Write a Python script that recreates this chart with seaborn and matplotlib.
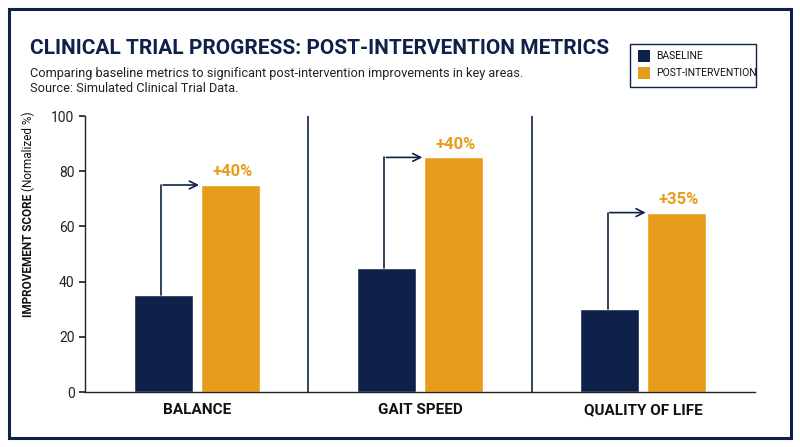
import numpy as np
import pandas as pd
import matplotlib
matplotlib.use("Agg")
from matplotlib import pyplot as plt
from matplotlib.patches import Rectangle
import seaborn as sns

categories = ["BALANCE", "GAIT SPEED", "QUALITY OF LIFE"]
baseline = [35, 45, 30]
post = [75, 85, 65]
gains = ["+40%", "+40%", "+35%"]

NAVY = "#0e2149"
ORANGE = "#e89c1c"

sns.set_theme(style="white")
plt.rcParams['font.family'] = ['Roboto', 'DejaVu Sans']

df = pd.DataFrame({"cat": categories * 2,
                   "val": baseline + post,
                   "grp": ["BASELINE"] * 3 + ["POST-INTERVENTION"] * 3})

fig = plt.figure(figsize=(8, 4.47), dpi=100)
ax = fig.add_axes([85/800, 1-392/447, 670/800, 276/447])
sns.barplot(data=df, x="cat", y="val", hue="grp", palette=[NAVY, ORANGE],
            width=0.6, gap=0.12, ax=ax, saturation=1, legend=False)

ax.set_ylim(0, 100)
ax.set_xlim(-0.5, 2.5)
ax.set_yticks(range(0, 101, 20))
ax.tick_params(axis='y', labelsize=10, colors="#222222", length=4, left=True)
ax.tick_params(axis='x', length=0, pad=8)
for lab in ax.get_xticklabels():
    lab.set_fontweight('bold'); lab.set_fontsize(11); lab.set_color("#111111")
ax.set_xlabel("")
ax.set_ylabel("")
for s in ["top", "right"]:
    ax.spines[s].set_visible(False)
for s in ["left", "bottom"]:
    ax.spines[s].set_color("#222222"); ax.spines[s].set_linewidth(1)
for xs in [0.5, 1.5]:
    ax.axvline(xs, color=NAVY, lw=1.2)

bw = 0.6 / 2
for i, (b, p, g) in enumerate(zip(baseline, post, gains)):
    bx = i - 0.15 - 0.01
    px_left = i + 0.15 - bw * 0.88 / 2 + 0.005
    ax.plot([bx, bx], [b, p], color=NAVY, lw=1.2)
    ax.annotate("", xy=(px_left, p), xytext=(bx - 0.003, p),
                arrowprops=dict(arrowstyle="->", color=NAVY, lw=1.2, mutation_scale=14))
    ax.text(i + 0.16, p + 2, g, ha='center', va='bottom', color=ORANGE,
            fontsize=12, fontweight='bold')

t1 = ax.text(-0.085, 0.5, "IMPROVEMENT SCORE ", transform=ax.transAxes, rotation=90,
             ha='center', va='center', fontsize=8.5, fontweight='bold', color="#111111")
fig.canvas.draw()
bb = t1.get_window_extent()
ax.annotate("(Normalized %)", xy=(0.5, 1), xycoords=t1, rotation=90, ha='center',
            va='bottom', fontsize=8.5, color="#111111")

fig.text(30/800, 1-48/447, "CLINICAL TRIAL PROGRESS: POST-INTERVENTION METRICS",
         fontsize=15, fontweight='bold', color=NAVY, va='center')
fig.text(30/800, 1-73/447, "Comparing baseline metrics to significant post-intervention improvements in key areas.",
         fontsize=9.2, color="#222222", va='center')
fig.text(30/800, 1-88/447, "Source: Simulated Clinical Trial Data.",
         fontsize=9.2, color="#222222", va='center')

# legend box
fig.add_artist(Rectangle((630/800, 1-87/447), 126/800, 43/447, transform=fig.transFigure,
                         fill=False, ec=NAVY, lw=1))
for j, (lab, c) in enumerate([("BASELINE", NAVY), ("POST-INTERVENTION", ORANGE)]):
    y = 1 - (56 + j*17)/447
    fig.add_artist(Rectangle((638/800, y - 6/447), 12/800, 12/447, transform=fig.transFigure,
                             fc=c, ec='none'))
    fig.text(656/800, y, lab, fontsize=7.5, color="#111111", va='center')

# outer frame
fig.add_artist(Rectangle((9/800, 9/447), 782/800, 429/447, transform=fig.transFigure,
                         fill=False, ec=NAVY, lw=2.2))

fig.savefig("out.png", dpi=100, facecolor="white")
